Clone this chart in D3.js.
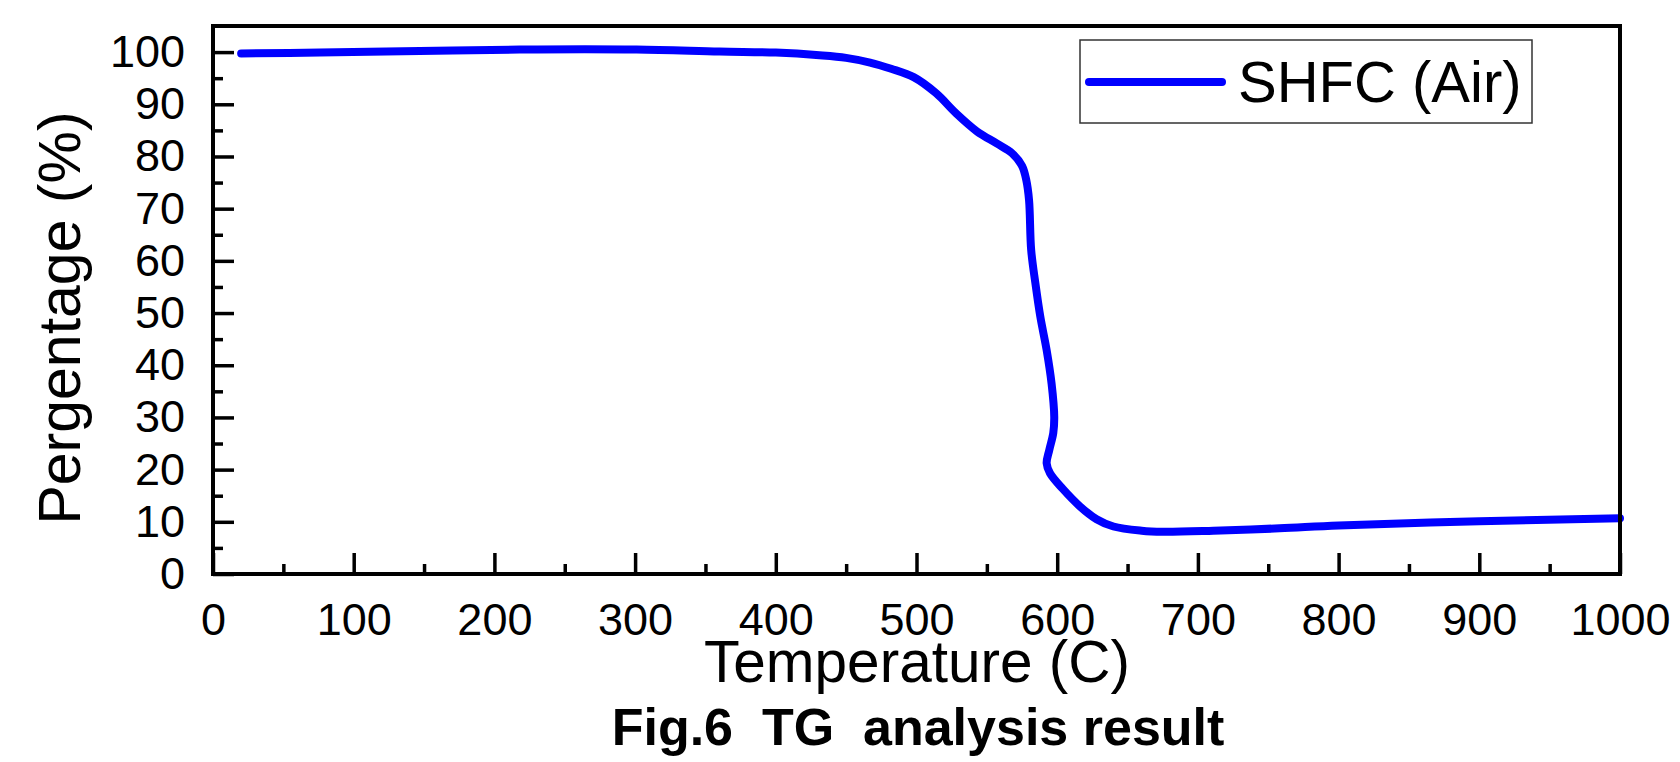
<!DOCTYPE html>
<html>
<head>
<meta charset="utf-8">
<script src="https://cdn.jsdelivr.net/npm/d3@7"></script>
<style>
  html, body { margin: 0; padding: 0; background: #ffffff; }
  svg { display: block; }
  text { font-family: "Liberation Sans", Arial, sans-serif; fill: #000; }
</style>
</head>
<body>
<svg id="chart" width="1680" height="762"></svg>
<script>
// ---- data ----
const temperature = [20, 76, 147, 218, 301, 360, 400, 431, 450, 467, 482, 498, 514, 528, 543, 557, 568, 575, 578, 580, 581.5, 584.5, 588, 592.5, 596, 597.9, 597.2, 594.4, 592.5, 594.9, 604, 616, 628, 640, 660, 675, 711, 758, 800, 900, 1000];
const percentage  = [99.75, 99.9, 100.2, 100.5, 100.5, 100.1, 99.9, 99.4, 98.9, 98.0, 96.8, 95.2, 92.1, 88.3, 84.8, 82.5, 80.6, 78.2, 75.5, 71.6, 62.1, 55.7, 49.3, 42.9, 36.5, 30.1, 27.0, 23.8, 21.2, 19.3, 16.3, 13.0, 10.5, 9.1, 8.3, 8.1, 8.3, 8.75, 9.3, 10.1, 10.7];
const xMajorTicks = [0, 100, 200, 300, 400, 500, 600, 700, 800, 900, 1000];
const xMinorTicks = [50, 150, 250, 350, 450, 550, 650, 750, 850, 950];
const yMajorTicks = [0, 10, 20, 30, 40, 50, 60, 70, 80, 90, 100];
const yMinorTicks = [5, 15, 25, 35, 45, 55, 65, 75, 85, 95];
const seriesName = "SHFC (Air)";
const xTitle = "Temperature (C)";
const yTitle = "Pergentage (%)";
const figTitle = "Fig.6  TG  analysis result";

// ---- layout ----
const svg = d3.select("#chart");
const x = d3.scaleLinear().domain([0, 1000]).range([213, 1620]);
const y = d3.scaleLinear().domain([0, 105]).range([574, 26]);
const blue = "#0000ff";

// curve
const pts = temperature.map((t, i) => [t, percentage[i]]);
const line = d3.line()
  .x(d => x(d[0]))
  .y(d => y(d[1]))
  .curve(d3.curveCatmullRom.alpha(0.5));
svg.append("path")
  .datum(pts)
  .attr("d", line)
  .attr("fill", "none")
  .attr("stroke", blue)
  .attr("stroke-width", 8)
  .attr("stroke-linecap", "round")
  .attr("stroke-linejoin", "round");

// axes
function styleAxis(g) {
  g.select(".domain").remove();
  g.selectAll(".tick line").attr("stroke", "#000").attr("stroke-width", 3.5);
  g.selectAll(".tick text")
    .style("font-family", '"Liberation Sans", Arial, sans-serif')
    .style("font-size", "45px")
    .attr("fill", "#000");
}

svg.append("g")
  .attr("transform", `translate(0,${y(0)})`)
  .call(d3.axisBottom(x).tickValues(xMajorTicks).tickSize(-21).tickPadding(29).tickFormat(d3.format("d")))
  .call(styleAxis);
svg.append("g")
  .attr("transform", `translate(0,${y(0)})`)
  .call(d3.axisBottom(x).tickValues(xMinorTicks).tickSize(-10).tickFormat(""))
  .call(styleAxis);
svg.append("g")
  .attr("transform", `translate(${x(0)},0)`)
  .call(d3.axisLeft(y).tickValues(yMajorTicks).tickSize(-21).tickPadding(28).tickFormat(d3.format("d")))
  .call(styleAxis);
svg.append("g")
  .attr("transform", `translate(${x(0)},0)`)
  .call(d3.axisLeft(y).tickValues(yMinorTicks).tickSize(-10).tickFormat(""))
  .call(styleAxis);

// frame
svg.append("rect")
  .attr("x", x(0)).attr("y", y(105))
  .attr("width", x(1000) - x(0)).attr("height", y(0) - y(105))
  .attr("fill", "none").attr("stroke", "#000").attr("stroke-width", 4);

// legend
const lg = svg.append("g");
lg.append("rect")
  .attr("x", 1080).attr("y", 40).attr("width", 452).attr("height", 83)
  .attr("fill", "#fff").attr("stroke", "#333").attr("stroke-width", 1.5);
lg.append("line")
  .attr("x1", 1089).attr("x2", 1222).attr("y1", 82).attr("y2", 82)
  .attr("stroke", blue).attr("stroke-width", 8).attr("stroke-linecap", "round");
lg.append("text")
  .attr("x", 1238).attr("y", 102)
  .style("font-size", "58px")
  .text(seriesName);

// axis titles
svg.append("text")
  .attr("x", 917).attr("y", 682)
  .attr("text-anchor", "middle")
  .style("font-size", "58.5px")
  .text(xTitle);
svg.append("text")
  .attr("transform", "translate(80,318) rotate(-90)")
  .attr("text-anchor", "middle")
  .style("font-size", "59px")
  .text(yTitle);

// figure caption
svg.append("text")
  .attr("x", 918).attr("y", 745)
  .attr("text-anchor", "middle")
  .style("font-size", "52px")
  .style("font-weight", "bold")
  .style("white-space", "pre")
  .text(figTitle);
</script>
</body>
</html>
